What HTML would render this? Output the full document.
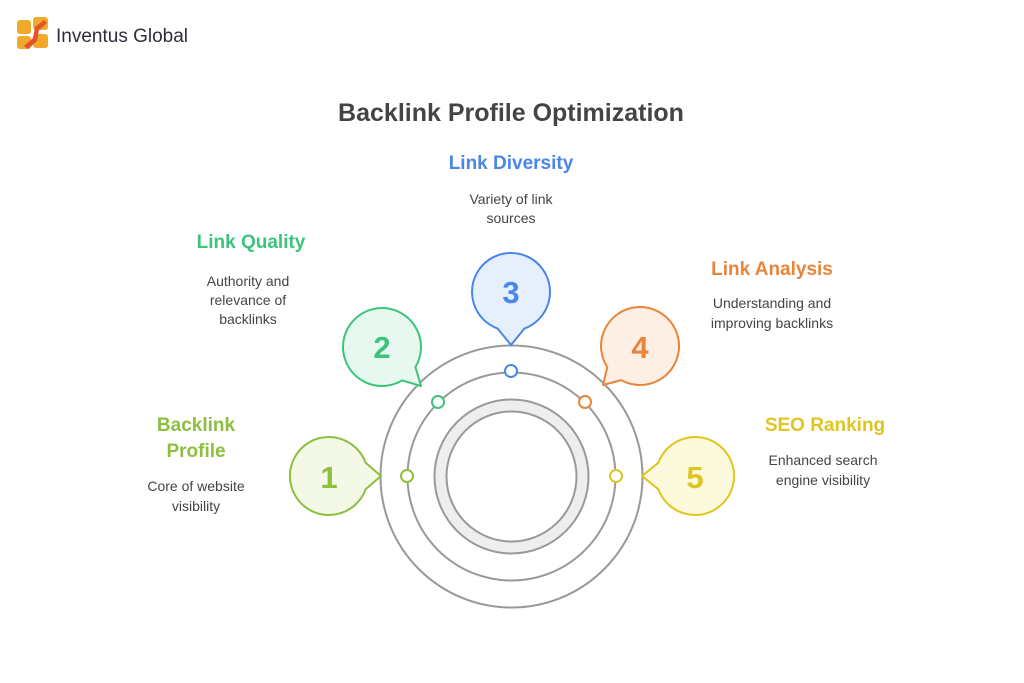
<!DOCTYPE html>
<html><head><meta charset="utf-8"><style>
html,body{margin:0;padding:0;background:#fff;}
svg{display:block;}
text{font-family:"Liberation Sans",sans-serif;}
</style></head><body>
<svg width="1024" height="683" viewBox="0 0 1024 683">
<rect width="1024" height="683" fill="#fff"/>
<!-- logo -->
<g>
<rect x="17" y="20" width="14" height="14" rx="3" fill="#f0a92a"/>
<rect x="33" y="17" width="15" height="13" rx="3" fill="#f0a92a"/>
<rect x="17" y="36" width="14" height="13" rx="3" fill="#f0a92a"/>
<rect x="33" y="34" width="15" height="14" rx="3" fill="#f0a92a"/>
<path d="M24 46 L33 38 L35 27 L44 20 L47 23 L39 30 L37 41 L28 49 Z" fill="#e5532a"/>
</g>
<text x="56" y="42" font-size="19" fill="#2e2e3a">Inventus Global</text>

<text x="511" y="121" font-size="25" font-weight="bold" fill="#444" text-anchor="middle">Backlink Profile Optimization</text>

<text x="511" y="169" font-size="19" font-weight="bold" fill="#4a85e8" text-anchor="middle">Link Diversity</text>
<text x="511" y="204" font-size="14" fill="#444" text-anchor="middle">Variety of link</text>
<text x="511" y="223" font-size="14" fill="#444" text-anchor="middle">sources</text>

<text x="251" y="248" font-size="19" font-weight="bold" fill="#3cc47c" text-anchor="middle">Link Quality</text>
<text x="248" y="286" font-size="14" fill="#444" text-anchor="middle">Authority and</text>
<text x="248" y="305" font-size="14" fill="#444" text-anchor="middle">relevance of</text>
<text x="248" y="324" font-size="14" fill="#444" text-anchor="middle">backlinks</text>

<text x="772" y="275" font-size="19" font-weight="bold" fill="#e8853a" text-anchor="middle">Link Analysis</text>
<text x="772" y="308" font-size="14" fill="#444" text-anchor="middle">Understanding and</text>
<text x="772" y="328" font-size="14" fill="#444" text-anchor="middle">improving backlinks</text>

<text x="196" y="431" font-size="19" font-weight="bold" fill="#8dbf3f" text-anchor="middle">Backlink</text>
<text x="196" y="457" font-size="19" font-weight="bold" fill="#8dbf3f" text-anchor="middle">Profile</text>
<text x="196" y="491" font-size="14" fill="#444" text-anchor="middle">Core of website</text>
<text x="196" y="511" font-size="14" fill="#444" text-anchor="middle">visibility</text>

<text x="825" y="431" font-size="19" font-weight="bold" fill="#e0c520" text-anchor="middle">SEO Ranking</text>
<text x="823" y="465" font-size="14" fill="#444" text-anchor="middle">Enhanced search</text>
<text x="823" y="485" font-size="14" fill="#444" text-anchor="middle">engine visibility</text>

<!-- rings -->
<circle cx="511.5" cy="476.5" r="131" fill="none" stroke="#999" stroke-width="2"/>
<circle cx="511.5" cy="476.5" r="104" fill="none" stroke="#999" stroke-width="2"/>
<circle cx="511.5" cy="476.5" r="71" fill="none" stroke="#eee" stroke-width="11"/>
<circle cx="511.5" cy="476.5" r="77" fill="none" stroke="#999" stroke-width="2"/>
<circle cx="511.5" cy="476.5" r="65" fill="none" stroke="#999" stroke-width="2"/>

<!-- dots -->
<circle cx="407" cy="476" r="6" fill="#fff" stroke="#8dbf3f" stroke-width="2"/>
<circle cx="438" cy="402" r="6" fill="#fff" stroke="#3cc47c" stroke-width="2"/>
<circle cx="511" cy="371" r="6" fill="#fff" stroke="#4a85e8" stroke-width="2"/>
<circle cx="585" cy="402" r="6" fill="#fff" stroke="#e8853a" stroke-width="2"/>
<circle cx="616" cy="476" r="6" fill="#fff" stroke="#e0c520" stroke-width="2"/>

<!-- bubbles -->
<path d="M365.6 489.3 A39 39 0 1 1 365.6 462.7 L381 476 Z" fill="#f3f9e6" stroke="#8dbf3f" stroke-width="2" stroke-linejoin="round"/>
<text x="329" y="488" font-size="31" font-weight="bold" fill="#8dbf3f" text-anchor="middle">1</text>

<path d="M402.1 380.4 A39 39 0 1 1 415.4 367.1 L421 386 Z" fill="#e6f8ef" stroke="#3cc47c" stroke-width="2" stroke-linejoin="round"/>
<text x="382" y="358" font-size="31" font-weight="bold" fill="#3cc47c" text-anchor="middle">2</text>

<path d="M497.7 328.6 A39 39 0 1 1 524.3 328.6 L511 345 Z" fill="#e6f0fd" stroke="#4a85e8" stroke-width="2" stroke-linejoin="round"/>
<text x="511" y="303" font-size="31" font-weight="bold" fill="#4a85e8" text-anchor="middle">3</text>

<path d="M607.3 367.2 A39 39 0 1 1 621.1 380.1 L603 385 Z" fill="#fdefe4" stroke="#e8853a" stroke-width="2" stroke-linejoin="round"/>
<text x="640" y="358" font-size="31" font-weight="bold" fill="#e8853a" text-anchor="middle">4</text>

<path d="M658.4 462.7 A39 39 0 1 1 658.4 489.3 L642 476 Z" fill="#fdf9dc" stroke="#e0c520" stroke-width="2" stroke-linejoin="round"/>
<text x="695" y="488" font-size="31" font-weight="bold" fill="#e0c520" text-anchor="middle">5</text>
</svg>
</body></html>
